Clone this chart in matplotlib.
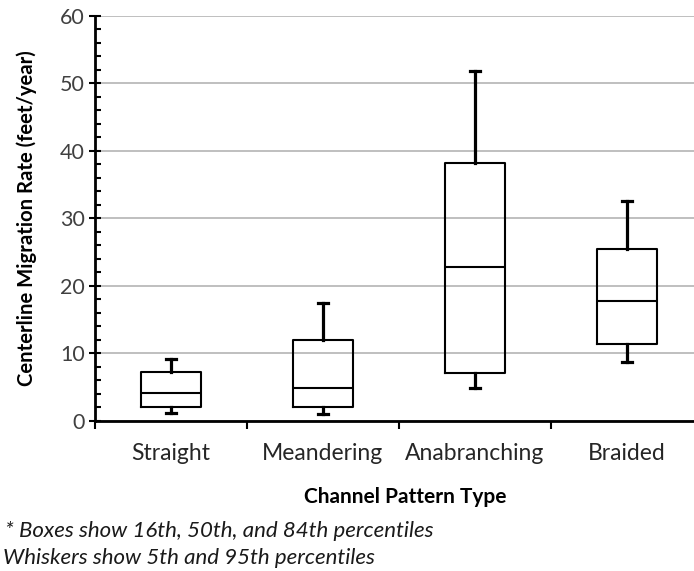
import matplotlib
matplotlib.use('Agg')
import matplotlib.pyplot as plt
from matplotlib.ticker import MultipleLocator, FixedLocator

plt.rcParams['font.family'] = ['Lato', 'DejaVu Sans']

# percentiles (feet/year)
categories = ['Straight', 'Meandering', 'Anabranching', 'Braided']
p05 = [1.2, 1.0, 4.9, 8.7]
p16 = [2.1, 2.1, 7.1, 11.3]
p50 = [4.1, 4.9, 22.7, 17.8]
p84 = [7.2, 12.0, 38.2, 25.5]
p95 = [9.1, 17.4, 51.8, 32.5]

stats = []
for i in range(len(categories)):
    stats.append({'label': categories[i], 'whislo': p05[i], 'q1': p16[i],
                  'med': p50[i], 'q3': p84[i], 'whishi': p95[i], 'fliers': []})

fig = plt.figure(figsize=(6.94, 5.71), dpi=100)
ax = fig.add_axes([95 / 694, (571 - 420.7) / 571, 608 / 694, 405 / 571])

positions = list(range(1, len(categories) + 1))
ax.bxp(stats, positions=positions, widths=0.4, capwidths=0.06, showfliers=False,
       boxprops=dict(color='black', linewidth=1.5),
       medianprops=dict(color='black', linewidth=1.5),
       whiskerprops=dict(color='black', linewidth=2.3),
       capprops=dict(color='black', linewidth=2.3))

ax.set_xlim(0.5, len(categories) + 0.5)
ax.set_ylim(0, 60)

# y axis: major ticks crossing the spine, minor ticks inside
ax.yaxis.set_major_locator(MultipleLocator(10))
ax.yaxis.set_minor_locator(MultipleLocator(2))
ax.tick_params(axis='y', which='major', direction='inout', length=9, width=1.5,
               labelsize=15.5, labelcolor='#404040', pad=3)
ax.tick_params(axis='y', which='minor', direction='in', length=4.5, width=1.5)
ax.yaxis.grid(True, which='major', color='#b4b4b4', linewidth=1.2)
ax.set_axisbelow(True)

# x axis: ticks between categories, labels at centres
ax.xaxis.set_major_locator(FixedLocator([p - 0.5 for p in positions] + [len(categories) + 0.5]))
ax.xaxis.set_minor_locator(FixedLocator(positions))
ax.set_xticklabels([], minor=False)
ax.set_xticklabels(categories, minor=True)
ax.tick_params(axis='x', which='major', direction='out', length=6, width=1.5)
ax.tick_params(axis='x', which='minor', length=0, labelsize=16.5, labelcolor='#262626', pad=16)

for s in ['top', 'right']:
    ax.spines[s].set_visible(False)
for s in ['left', 'bottom']:
    ax.spines[s].set_linewidth(2)
    ax.spines[s].set_color('black')

ax.set_ylabel('Centerline Migration Rate (feet/year)', fontsize=14.6, fontweight='bold', labelpad=16)
fig.text(405 / 694, 1 - 497 / 571, 'Channel Pattern Type', fontsize=15, fontweight='bold',
         ha='center', va='center')

fig.text(5 / 694, 1 - 531 / 571, '* Boxes show 16th, 50th, and 84th percentiles',
         fontsize=16, style='italic', ha='left', va='center', color='#1a1a1a')
fig.text(3 / 694, 1 - 558 / 571, 'Whiskers show 5th and 95th percentiles',
         fontsize=16, style='italic', ha='left', va='center', color='#1a1a1a')

fig.savefig('out.png', dpi=100)
